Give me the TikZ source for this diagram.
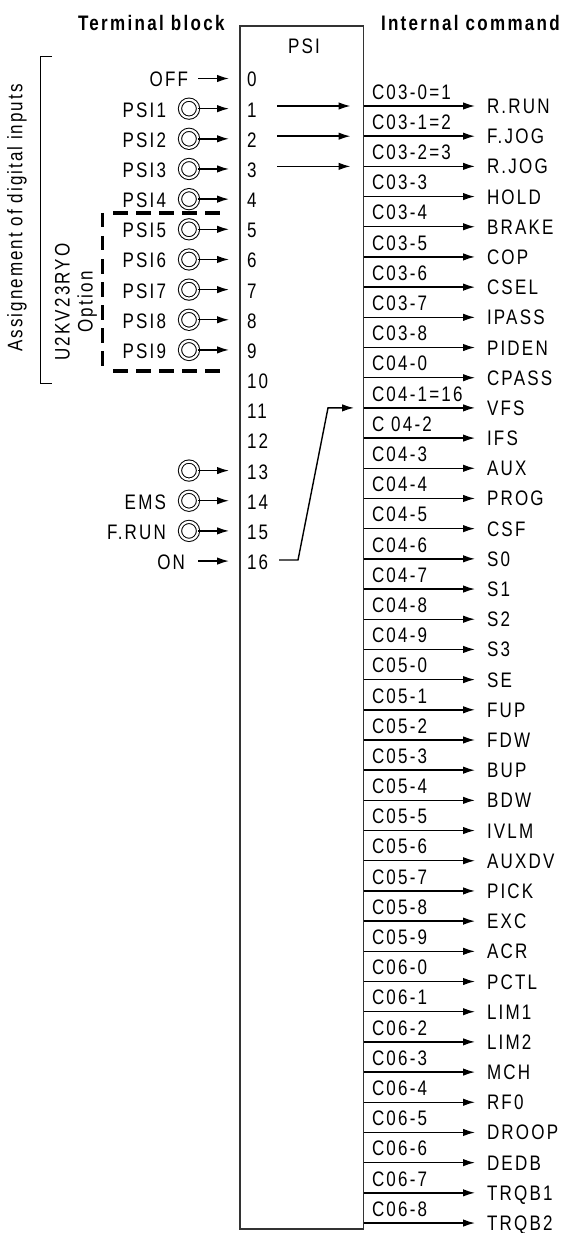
\documentclass[tikz,border=0pt]{standalone}
\usepackage{fontspec}
\setmainfont{Liberation Sans}[FakeStretch=0.81,LetterSpace=10.5]
\usetikzlibrary{arrows.meta, positioning, calc}

\begin{document}
\begin{tikzpicture}[
	x=1pt, y=-1pt,
	>={Latex[length=12pt,width=7.5pt]},
	every node/.style={inner sep=0pt, outer sep=0pt, font=\fontsize{21}{23}\selectfont},
	% Style for Nodes
	psibox/.style={rectangle, draw=black!80, line width=1.2pt, minimum width=123.5pt, minimum height=1203pt},
	heading/.style={anchor=west, font=\fontsize{21}{23}\selectfont\addfontfeature{LetterSpace=11}\bfseries},
	termno/.style={anchor=west, text height=17pt, text depth=0pt},
	termname/.style={anchor=east, text height=17pt, text depth=0pt},
	contact/.style={circle, draw=black, line width=1pt, double, double distance=2.2pt, minimum size=18pt},
	cmdname/.style={anchor=west, text height=15pt, text depth=0pt},
	codename/.style={anchor=west, text height=15pt, text depth=0pt},
	sidetext/.style={rotate=90, align=center},
	% Arrow Styles
	signal/.style={->, line width=1.4pt},
	bracket/.style={draw=black, line width=1pt},
	optionline/.style={draw=black, line width=3.4pt, dash pattern=on 14.5pt off 8.5pt}
	]
	\useasboundingbox (0,0) rectangle (563,1233);
	
	% --- HEADINGS AND BLOCK ---
	\node[psibox] (PSI) at (301.75,627.5) {};
	\node at (304,46) (PSItitle) {PSI};
	\node[heading] (TermHead) at (78,23) {Terminal block};
	\node[heading] (CmdHead) at (381,23) {Internal command};
	
	% --- TERMINAL NUMBERS ---
	\foreach \i in {0,...,16} {
		\node[termno] (term\i) at (247,{78.5+30.16*\i}) {\i};
	}
	
	% --- INPUTS ---
	% Plain inputs
	\node[termname, left=59pt of term0.west] (OFF) {OFF};
	\draw[signal, shorten <=10pt, shorten >=18pt] (OFF.east) -- (term0.west);
	\node[termname, left=62pt of term16.west] (ON) {ON};
	\draw[signal, shorten <=13pt, shorten >=18pt] (ON.east) -- (term16.west);
	
	% Inputs with a contact
	\foreach \i/\name in {1/PSI1, 2/PSI2, 3/PSI3, 4/PSI4, 5/PSI5, 6/PSI6, 7/PSI7, 8/PSI8, 9/PSI9, 13/, 14/EMS, 15/F.RUN} {
		\node[contact, left=49pt of term\i.west] (contact\i) {};
		\node[termname, left=14pt of contact\i.west] (input\i) {\name};
		\draw[signal, shorten >=18pt] (contact\i.east) -- (term\i.west);
	}
	
	% --- OUTPUTS ---
	\foreach \code/\cmd [count=\n from 0] in {
		C03-0=1/R.RUN, C03-1=2/F.JOG, C03-2=3/R.JOG, C03-3/HOLD, C03-4/BRAKE, C03-5/COP, C03-6/CSEL, C03-7/IPASS, C03-8/PIDEN,
		C04-0/CPASS, C04-1=16/VFS, C 04-2/IFS, C04-3/AUX, C04-4/PROG, C04-5/CSF, C04-6/S0, C04-7/S1, C04-8/S2, C04-9/S3,
		C05-0/SE, C05-1/FUP, C05-2/FDW, C05-3/BUP, C05-4/BDW, C05-5/IVLM, C05-6/AUXDV, C05-7/PICK, C05-8/EXC, C05-9/ACR,
		C06-0/PCTL, C06-1/LIM1, C06-2/LIM2, C06-3/MCH, C06-4/RF0, C06-5/DROOP, C06-6/DEDB, C06-7/TRQB1, C06-8/TRQB2} {
		\node[cmdname] (cmd\n) at (487,{106+30.19*\n}) {\cmd};
		\node[codename] (code\n) at (372,{91.7+30.19*\n}) {\code};
		\draw[signal, shorten >=12pt] (PSI.east |- cmd\n.west) -- (cmd\n.west);
	}
	
	% --- LINKS INSIDE THE BLOCK ---
	\foreach \n in {0,1,2} {
		\coordinate (link\n) at (277,{106+30.19*\n});
		\draw[signal, shorten >=13pt] (link\n) -- (PSI.east |- link\n);
	}
	\coordinate (bendlow) at (298,560);
	\coordinate (bendhigh) at (328,407.9);
	\draw[signal, shorten <=11pt, shorten >=9.5pt] (term16.east |- bendlow) -- (bendlow) -- (bendhigh) -- (PSI.east |- bendhigh);
	
	% --- GROUPING ---
	\draw[bracket] (52,57) -- (40,57) -- (40,383) -- (52,383);
	\node[sidetext, font=\fontsize{21}{23}\selectfont\addfontfeature{LetterSpace=9.7}] (AssignLabel) at (17,218) {Assignement of digital inputs};
	\node[sidetext] (OptionLabel) at (76,302) {U2KV23RYO\\Option};
	\draw[optionline] (113,213) -- (226,213);
	\draw[optionline] (113,371) -- (226,371);
	\draw[optionline] (102.5,213) -- (102.5,372);
	
\end{tikzpicture}
\end{document}
